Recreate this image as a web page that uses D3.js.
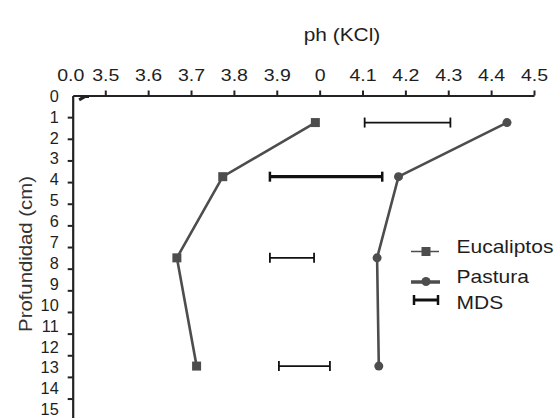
<!DOCTYPE html>
<html>
<head>
<meta charset="utf-8">
<script src="https://cdn.jsdelivr.net/npm/d3@7/dist/d3.min.js"></script>
<style>
  html, body { margin: 0; padding: 0; background: #fff; }
  svg { display: block; font-family: "Liberation Sans", Arial, sans-serif; }
</style>
</head>
<body>
<svg id="chart" width="557" height="418"></svg>
<script>
// Depths (cm) at which pH was measured
const depths = [1.25, 3.75, 7.5, 12.5];
// pH (KCl) per land use
const eucaliptos = [3.99, 3.774, 3.667, 3.713];
const pastura = [4.437, 4.184, 4.134, 4.138];
// Minimum significant difference bars: start pH, end pH, depth, heavy stroke
const mdsStart = [4.105, 3.884, 3.884, 3.905];
const mdsEnd = [4.305, 4.146, 3.987, 4.024];
const mdsDepth = [1.25, 3.75, 7.5, 12.5];
const mdsHeavy = [false, true, false, false];
// Axis ticks
const xTickValues = [3.424, 3.5, 3.6, 3.7, 3.8, 3.9, 4.0, 4.1, 4.2, 4.3, 4.4, 4.5];
const xTickLabels = ["0.0", "3.5", "3.6", "3.7", "3.8", "3.9", "0", "4.1", "4.2", "4.3", "4.4", "4.5"];
const yTickValues = d3.range(0, 16);
// Small stray mark next to the origin
const originMark = [[3.439, 0.2], [3.452, 0.05], [3.462, 0.05]];

const svg = d3.select("#chart");
const ink = "#222";
const textInk = "#1e1e1e";
const seriesColor = "#4d4d4d";
const FONT = "Liberation Sans, Arial, sans-serif";
const WIDE = 1.13; // horizontal stretch of the wide lettering

const x = d3.scaleLinear().domain([3.424, 4.5]).range([72.7, 534]);
const y = d3.scaleLinear().domain([0, 15]).range([95.5, 420.2]);
// Labels of the depth axis run on a slightly tighter spacing than the ticks
const yLabel = d3.scaleLinear().domain([0, 15]).range([96, 409.5]);

// Stretched text placed at (px, py)
function wideText(parent, px, py, str, size, anchor, rotate) {
  return parent.append("text")
    .attr("transform", `translate(${px},${py})${rotate ? ` rotate(${rotate})` : ""} scale(${WIDE},1)`)
    .attr("text-anchor", anchor || "start")
    .attr("font-size", size)
    .attr("fill", textInk)
    .text(str);
}

// Top pH axis
const xAxis = d3.axisTop(x)
  .tickValues(xTickValues)
  .tickSize(5)
  .tickSizeOuter(0)
  .tickFormat((d, i) => xTickLabels[i]);
const gx = svg.append("g").attr("transform", `translate(0,${y(0)})`).call(xAxis);
gx.attr("font-family", FONT).attr("font-size", 17.3);
gx.select(".domain").attr("stroke", ink).attr("stroke-width", 2.2);
gx.selectAll(".tick line").attr("stroke", ink).attr("stroke-width", 2);
gx.selectAll(".tick text").attr("fill", textInk).attr("y", -14.8)
  .attr("transform", `scale(${WIDE},1)`);
gx.selectAll(".tick").filter((d, i) => i === 0).select("line").remove();
gx.selectAll(".tick").filter((d, i) => i === 0).select("text").attr("x", -2.4 / WIDE);

// Left depth axis: tick marks
const yAxis = d3.axisLeft(y)
  .tickValues(yTickValues)
  .tickSize(5)
  .tickSizeOuter(0)
  .tickFormat("");
const gy = svg.append("g").attr("transform", `translate(${x.range()[0]},0)`).call(yAxis);
gy.select(".domain").attr("stroke", ink).attr("stroke-width", 2.2);
gy.selectAll(".tick line").attr("stroke", ink).attr("stroke-width", 2);
gy.selectAll(".tick").filter(d => d === 0).select("line").remove();

// Left depth axis: labels
const yLabelAxis = d3.axisLeft(yLabel)
  .tickValues(yTickValues)
  .tickSize(0)
  .tickPadding(0)
  .tickFormat(d3.format("d"));
const gyl = svg.append("g").attr("transform", `translate(${x.range()[0] - 14},0)`).call(yLabelAxis);
gyl.attr("font-family", FONT).attr("font-size", 16.3);
gyl.select(".domain").remove();
gyl.selectAll(".tick text").attr("fill", textInk);

// Axis titles
wideText(svg, 342, 41, "ph (KCl)", 18.5, "middle");
wideText(svg, 32, 254, "Profundidad (cm)", 18, "middle", -90).attr("fill", "#333");

// Stray origin mark
svg.append("path")
  .datum(originMark)
  .attr("d", d3.line().x(d => x(d[0])).y(d => y(d[1])))
  .attr("fill", "none").attr("stroke", ink).attr("stroke-width", 3);

const line = d3.line().x(d => x(d[0])).y(d => y(d[1]));

// Eucaliptos
const eucData = depths.map((dp, i) => [eucaliptos[i], dp]);
svg.append("path").datum(eucData)
  .attr("d", line).attr("fill", "none")
  .attr("stroke", seriesColor).attr("stroke-width", 2.6);
svg.selectAll("rect.euc").data(eucData).join("rect")
  .attr("class", "euc")
  .attr("x", d => x(d[0]) - 4.5).attr("y", d => y(d[1]) - 4.5)
  .attr("width", 9).attr("height", 9)
  .attr("fill", seriesColor);

// Pastura
const pasData = depths.map((dp, i) => [pastura[i], dp]);
svg.append("path").datum(pasData)
  .attr("d", line).attr("fill", "none")
  .attr("stroke", seriesColor).attr("stroke-width", 2.6);
svg.selectAll("circle.pas").data(pasData).join("circle")
  .attr("class", "pas")
  .attr("cx", d => x(d[0])).attr("cy", d => y(d[1]))
  .attr("r", 4.5)
  .attr("fill", seriesColor);

// MDS bars
const mdsData = mdsStart.map((s, i) => ({ s, e: mdsEnd[i], d: mdsDepth[i], heavy: mdsHeavy[i] }));
const mg = svg.selectAll("g.mds").data(mdsData).join("g").attr("class", "mds");
mg.append("line")
  .attr("x1", d => x(d.s)).attr("x2", d => x(d.e))
  .attr("y1", d => y(d.d)).attr("y2", d => y(d.d))
  .attr("stroke", "#111").attr("stroke-width", d => d.heavy ? 3.2 : 1.8);
mg.append("line")
  .attr("x1", d => x(d.s)).attr("x2", d => x(d.s))
  .attr("y1", d => y(d.d) - 5).attr("y2", d => y(d.d) + 5)
  .attr("stroke", "#111").attr("stroke-width", d => d.heavy ? 2.5 : 1.8);
mg.append("line")
  .attr("x1", d => x(d.e)).attr("x2", d => x(d.e))
  .attr("y1", d => y(d.d) - 5).attr("y2", d => y(d.d) + 5)
  .attr("stroke", "#111").attr("stroke-width", d => d.heavy ? 2.5 : 1.8);

// Legend
const legend = svg.append("g").attr("transform", "translate(411,0)");
// Eucaliptos
legend.append("line").attr("x1", 0).attr("x2", 28).attr("y1", 251.5).attr("y2", 251.5)
  .attr("stroke", seriesColor).attr("stroke-width", 1.5);
legend.append("rect").attr("x", 15 - 4.5).attr("y", 251.5 - 4.5).attr("width", 9).attr("height", 9)
  .attr("fill", seriesColor);
wideText(legend, 45.5, 252.7, "Eucaliptos", 18.6);
// Pastura
legend.append("line").attr("x1", 0).attr("x2", 29).attr("y1", 282).attr("y2", 282)
  .attr("stroke", seriesColor).attr("stroke-width", 3.5);
legend.append("circle").attr("cx", 15).attr("cy", 281.5).attr("r", 4.5)
  .attr("fill", seriesColor);
wideText(legend, 45.5, 283.3, "Pastura", 18.6);
// MDS
legend.append("line").attr("x1", 3).attr("x2", 27).attr("y1", 300).attr("y2", 300)
  .attr("stroke", "#111").attr("stroke-width", 3);
legend.append("line").attr("x1", 3).attr("x2", 3).attr("y1", 295).attr("y2", 305)
  .attr("stroke", "#111").attr("stroke-width", 2.5);
legend.append("line").attr("x1", 27).attr("x2", 27).attr("y1", 295).attr("y2", 305)
  .attr("stroke", "#111").attr("stroke-width", 2.5);
wideText(legend, 45.5, 309.3, "MDS", 18.6);
</script>
</body>
</html>
